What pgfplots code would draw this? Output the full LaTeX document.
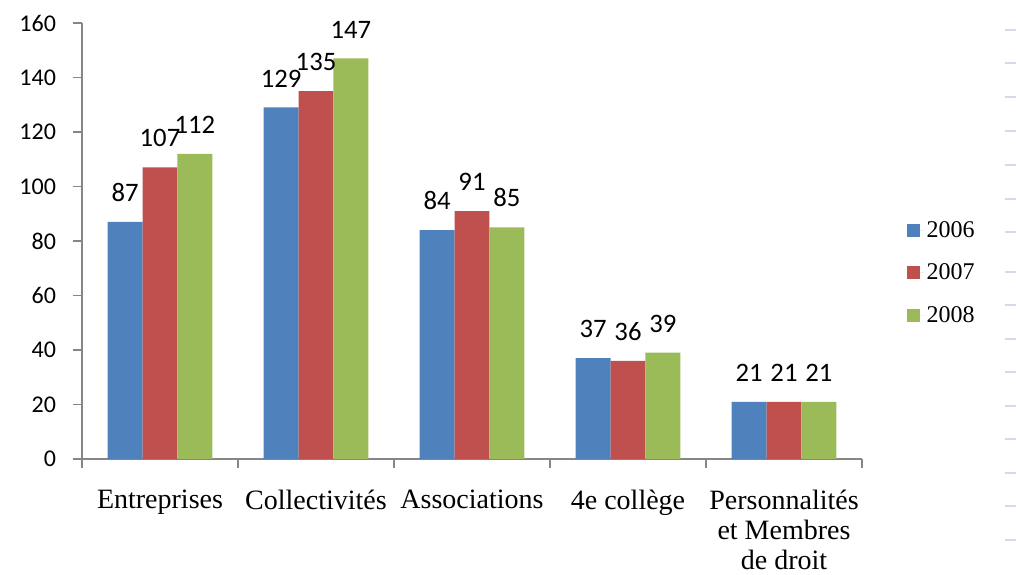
\documentclass[border=0pt]{standalone}
\usepackage{fontspec}
\setmainfont{Carlito}
\newfontfamily\serifc{Liberation Serif}
\usepackage{pgfplots}
\pgfplotsset{compat=1.18}
\definecolor{cB}{HTML}{4F81BD}
\definecolor{cR}{HTML}{C0504D}
\definecolor{cG}{HTML}{9BBB59}
\definecolor{axgray}{HTML}{868686}
\definecolor{dashc}{HTML}{D5DAE6}
\begin{document}
\begin{tikzpicture}
\path[use as bounding box] (0pt,0pt) rectangle (762pt,430.5pt);
\foreach \yy in {30,63,97,131,165,199,232,272,305,339,372,406,439,473,506,540}{
  \draw[dashc, line width=1.5pt] (753.75pt,{(574-\yy)*0.75pt}) -- (762pt,{(574-\yy)*0.75pt});
}
\begin{axis}[
  at={(61.5pt,86.25pt)}, anchor=south west, scale only axis,
  width=585pt, height=327pt,
  ybar=0pt, bar width=0.224,
  xmin=-0.5, xmax=4.5, ymin=0, ymax=160,
  ytick={0,20,...,160},
  axis lines=left,
  axis line style={-, draw=axgray, line width=0.8pt},
  tick style={draw=axgray, line width=0.8pt},
  tick align=outside,
  major tick length=7pt,
  xtick={-0.5,0.5,1.5,2.5,3.5,4.5},
  xticklabels={},
  extra x ticks={0,1,2,3,4},
  extra x tick labels={Entreprises,Collectivités,Associations,4e collège,{Personnalités\\et Membres\\de droit}},
  extra x tick style={major tick length=0pt, tick style={draw=none},
    xticklabel style={font=\serifc\fontsize{21}{22.2}\selectfont, align=center, anchor=north, yshift=-20pt}},
  yticklabel style={font=\fontsize{18}{22}\selectfont, xshift=-9pt},
  /pgf/number format/assume math mode=true,
  nodes near coords,
  every node near coord/.append style={font=\fontsize{20}{24}\selectfont, inner sep=0pt, yshift=15pt, anchor=south, text=black},
  legend style={at={(1.0516,0.427)}, anchor=west, draw=none, fill=none,
    font=\serifc\fontsize{18}{20}\selectfont, row sep=14.5pt},
  legend cell align=left,
  legend image code/.code={\fill[#1] (0pt,-5pt) rectangle (10pt,5pt); \path (0pt,0pt) -- (13pt,0pt);},
]
\addplot[fill=cB, draw=none] coordinates {(0,87) (1,129) (2,84) (3,37) (4,21)};
\addplot[fill=cR, draw=none] coordinates {(0,107) (1,135) (2,91) (3,36) (4,21)};
\addplot[fill=cG, draw=none] coordinates {(0,112) (1,147) (2,85) (3,39) (4,21)};
\legend{2006,2007,2008}
\end{axis}
\end{tikzpicture}
\end{document}
